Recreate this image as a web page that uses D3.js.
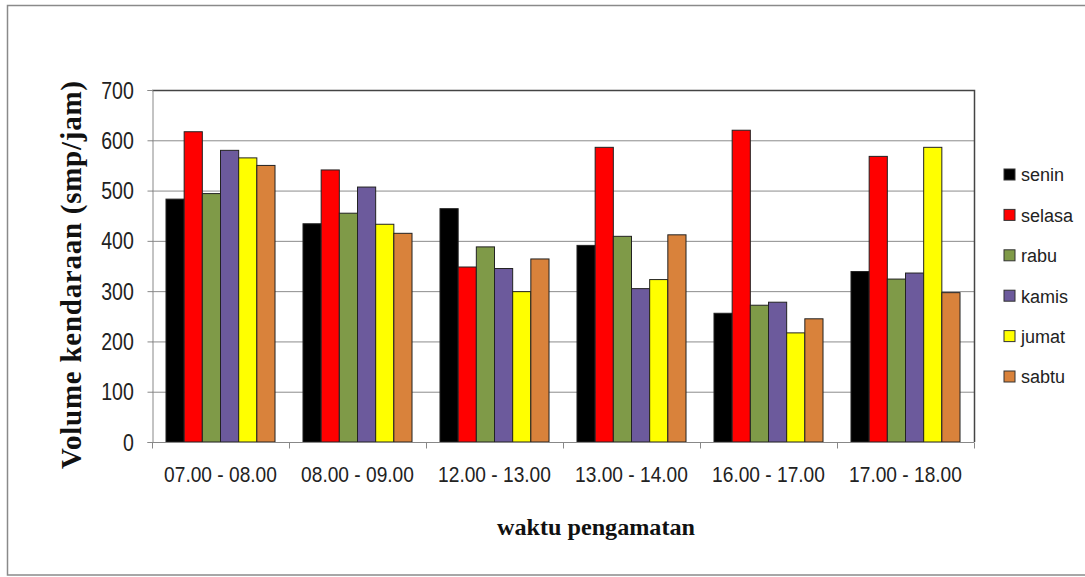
<!doctype html>
<html>
<head>
<meta charset="utf-8">
<title>Volume kendaraan</title>
<script src="https://d3js.org/d3.v7.min.js"></script>
<style>
  body { margin: 0; background: #fff; }
  .tick text { font-family: "Liberation Sans", Arial, sans-serif; fill: #222; }
</style>
</head>
<body>
<svg id="chart" width="1085" height="577"></svg>
<script>
  // data
  let periods = ["07.00 - 08.00", "08.00 - 09.00", "12.00 - 13.00", "13.00 - 14.00", "16.00 - 17.00", "17.00 - 18.00"];
  let days = ["senin", "selasa", "rabu", "kamis", "jumat", "sabtu"];
  let senin  = [483, 434, 464, 391, 256, 339];
  let selasa = [617, 541, 348, 586, 620, 568];
  let rabu   = [494, 455, 388, 409, 272, 324];
  let kamis  = [580, 507, 345, 305, 278, 336];
  let jumat  = [565, 433, 299, 323, 217, 586];
  let sabtu  = [550, 415, 364, 412, 245, 297];
  let yTicks = [0, 100, 200, 300, 400, 500, 600, 700];
  let colors = ["#000000", "#ff0000", "#7f9a48", "#6c5a9c", "#ffff00", "#d9823b"];

  let series = [senin, selasa, rabu, kamis, jumat, sabtu];

  let svg = d3.select("#chart");
  let plotL = 152, plotR = 974, plotT = 90, plotB = 442;

  // outer frame
  svg.append("rect")
    .attr("x", 7.5).attr("y", 5.5)
    .attr("width", 1090).attr("height", 569.5)
    .attr("fill", "none").attr("stroke", "#8a8a8a").attr("stroke-width", 1.5);

  let x0 = d3.scaleBand().domain(periods).range([plotL, plotR]).paddingInner(0).paddingOuter(0);
  let x1 = d3.scaleBand().domain(days).range([0, x0.bandwidth()]).paddingOuter(0.77).paddingInner(0);
  let y = d3.scaleLinear().domain([0, 700]).range([plotB, plotT]);

  // gridlines
  svg.append("g")
    .selectAll("line")
    .data(yTicks.filter(d => d > 0 && d < 700))
    .enter().append("line")
      .attr("x1", plotL).attr("x2", plotR)
      .attr("y1", d => y(d) + 0.5).attr("y2", d => y(d) + 0.5)
      .attr("stroke", "#8c8c8c").attr("stroke-width", 1);

  // top / right frame of plot
  svg.append("path")
    .attr("d", "M" + plotL + "," + (plotT + 0.5) + "H" + (plotR + 0.5) + "V" + plotB)
    .attr("fill", "none").attr("stroke", "#444").attr("stroke-width", 1.5);

  // bars
  let groups = svg.append("g")
    .selectAll("g")
    .data(periods)
    .enter().append("g")
      .attr("transform", d => "translate(" + x0(d) + ",0)");

  groups.selectAll("rect")
    .data((p, i) => days.map((d, j) => ({ day: d, value: series[j][i], color: colors[j] })))
    .enter().append("rect")
      .attr("x", d => x1(d.day))
      .attr("y", d => y(d.value))
      .attr("width", x1.bandwidth())
      .attr("height", d => y(0) - y(d.value))
      .attr("fill", d => d.color)
      .attr("stroke", "#222").attr("stroke-width", 1);

  // y axis
  let yAxis = svg.append("g")
    .attr("transform", "translate(" + (plotL + 0.5) + ",0)")
    .call(d3.axisLeft(y).tickValues(yTicks).tickSize(5).tickPadding(17));
  yAxis.select(".domain").attr("stroke", "#888");
  yAxis.selectAll(".tick line").attr("stroke", "#888");
  yAxis.selectAll(".tick text")
    .attr("font-size", 23)
    .attr("dy", "0.35em")
    .attr("transform", "scale(0.85,1)");

  // x axis
  let xAxis = svg.append("g")
    .attr("transform", "translate(0," + (plotB + 0.5) + ")");
  xAxis.append("line")
    .attr("x1", plotL).attr("x2", plotR)
    .attr("stroke", "#888");
  xAxis.selectAll(".sep")
    .data(periods.concat(["end"]))
    .enter().append("line")
      .attr("class", "sep")
      .attr("x1", (d, i) => Math.round(plotL + i * x0.step()) + 0.5)
      .attr("x2", (d, i) => Math.round(plotL + i * x0.step()) + 0.5)
      .attr("y1", 0).attr("y2", 6)
      .attr("stroke", "#888");
  xAxis.selectAll(".lbl")
    .data(periods)
    .enter().append("text")
      .attr("class", "lbl")
      .attr("transform", d => "translate(" + (x0(d) + x0.bandwidth() / 2) + ",39.5) scale(0.87,1)")
      .attr("text-anchor", "middle")
      .attr("font-family", "Liberation Sans, Arial, sans-serif")
      .attr("font-size", 22)
      .attr("fill", "#222")
      .text(d => d);

  // axis titles
  svg.append("text")
    .attr("transform", "translate(81,275) rotate(-90)")
    .attr("text-anchor", "middle")
    .attr("font-family", "Liberation Serif, Times New Roman, serif")
    .attr("font-weight", "bold")
    .attr("font-size", 29)
    .attr("fill", "#111")
    .attr("textLength", 388)
    .attr("lengthAdjust", "spacing")
    .text("Volume kendaraan (smp/jam)");

  svg.append("text")
    .attr("x", 596).attr("y", 535)
    .attr("text-anchor", "middle")
    .attr("font-family", "Liberation Serif, Times New Roman, serif")
    .attr("font-weight", "bold")
    .attr("font-size", 24)
    .attr("fill", "#111")
    .attr("textLength", 198)
    .attr("lengthAdjust", "spacingAndGlyphs")
    .text("waktu pengamatan");

  // legend
  let legend = svg.append("g")
    .selectAll("g")
    .data(days)
    .enter().append("g")
      .attr("transform", (d, i) => "translate(1004," + (175 + i * 40.4) + ")");
  legend.append("rect")
    .attr("x", 0).attr("y", -6)
    .attr("width", 11).attr("height", 11)
    .attr("fill", (d, i) => colors[i])
    .attr("stroke", "#333").attr("stroke-width", 1);
  legend.append("text")
    .attr("x", 17).attr("y", 0)
    .attr("dy", "0.35em")
    .attr("font-family", "Liberation Sans, Arial, sans-serif")
    .attr("font-size", 18)
    .attr("fill", "#222")
    .text(d => d);
</script>
</body>
</html>
